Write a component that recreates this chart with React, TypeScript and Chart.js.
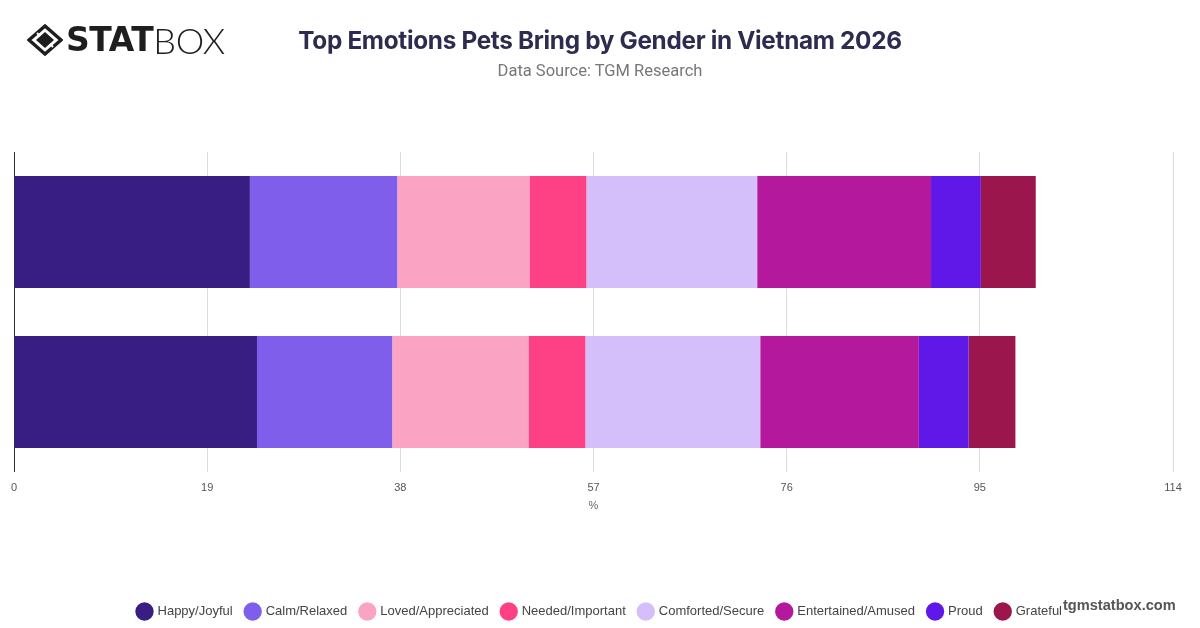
import React, { useEffect, useRef } from "react";
import { Chart, registerables } from "chart.js";

Chart.register(...registerables);

const categories = ["Male", "Female"];
const seriesNames = [
  "Happy/Joyful",
  "Calm/Relaxed",
  "Loved/Appreciated",
  "Needed/Important",
  "Comforted/Secure",
  "Entertained/Amused",
  "Proud",
  "Grateful",
];
const happy = [23.2, 23.9];
const calm = [14.5, 13.3];
const loved = [13.0, 13.4];
const needed = [5.6, 5.6];
const comforted = [16.8, 17.2];
const entertained = [17.1, 15.6];
const proud = [4.9, 4.9];
const grateful = [5.4, 4.6];
const seriesValues = [happy, calm, loved, needed, comforted, entertained, proud, grateful];
const colors = ["#381d82", "#7e5eeb", "#fba3c3", "#fe4085", "#d5bffa", "#b3189d", "#6018e9", "#9b164c"];
const xMin = 0;
const xMax = 114;
const xStep = 19;

function Logo() {
  return (
    <div style={{ position: "absolute", left: 27, top: 22, display: "flex", alignItems: "center", height: 36 }}>
      <svg width="36" height="32" viewBox="0 0 36 32" style={{ marginRight: 3 }}>
        <polygon points="18,2 34,16 18,30 2,16" fill="none" stroke="#1e1e1e" strokeWidth="3.4" strokeLinejoin="miter" />
        <polygon points="18,8 27,16 18,24 9,16" fill="#1e1e1e" />
        <line x1="10" y1="9" x2="13" y2="12" stroke="#fff" strokeWidth="2" />
        <line x1="26" y1="23" x2="23" y2="20" stroke="#fff" strokeWidth="2" />
      </svg>
      <span style={{ fontFamily: "'DejaVu Sans', sans-serif", fontWeight: 900, fontSize: 33, color: "#1e1e1e", letterSpacing: -0.5, lineHeight: "36px" }}>STAT</span>
      <span style={{ fontFamily: "'Lato', sans-serif", fontWeight: 300, fontSize: 36, color: "#1e1e1e", lineHeight: "36px", letterSpacing: -0.3 }}>BOX</span>
    </div>
  );
}

const legendShift = {
  id: "legendShift",
  afterLayout(chart: any) {
    if (chart.legend) {
      chart.legend.left += 6.5;
      chart.legend.right += 6.5;
    }
  },
};

export default function App() {
  const canvasRef = useRef<HTMLCanvasElement | null>(null);

  useEffect(() => {
    if (!canvasRef.current) return;
    const chart = new Chart(canvasRef.current, {
      type: "bar",
      data: {
        labels: categories,
        datasets: seriesNames.map((name, i) => ({
          label: name,
          data: seriesValues[i],
          backgroundColor: colors[i],
          borderWidth: 0,
          categoryPercentage: 1,
          barPercentage: 0.7,
        })),
      },
      options: {
        indexAxis: "y",
        animation: false,
        responsive: false,
        maintainAspectRatio: false,
        layout: { padding: { top: 152, left: 14, right: 27, bottom: 0 } },
        scales: {
          x: {
            stacked: true,
            min: xMin,
            max: xMax,
            afterFit: (axis: any) => {
              axis.paddingLeft = 0;
              axis.paddingRight = 0;
            },
            ticks: {
              stepSize: xStep,
              color: "#555",
              font: { family: "'Liberation Sans', sans-serif", size: 11 },
              padding: 9,
            },
            grid: {
              color: (ctx: any) => (ctx.index === 0 ? "#333" : "#dcdcdc"),
              lineWidth: 1,
              drawTicks: false,
            },
            border: { display: false },
            title: {
              display: true,
              text: "%",
              color: "#666",
              font: { family: "'Liberation Sans', sans-serif", size: 11 },
              padding: { top: -4, bottom: 79 },
            },
          },
          y: {
            stacked: true,
            display: false,
          },
        },
        plugins: {
          legend: {
            position: "bottom",
            labels: {
              usePointStyle: true,
              pointStyle: "circle",
              boxWidth: 13,
              boxHeight: 13,
              padding: 13.5,
              color: "#444",
              font: { family: "'Liberation Sans', sans-serif", size: 13 },
            },
          },
          tooltip: { enabled: false },
          title: { display: false },
        },
      },
      plugins: [legendShift],
    });
    return () => chart.destroy();
  }, []);

  return (
    <div style={{ position: "absolute", left: 0, top: 0, width: 1200, height: 628, background: "#fff", overflow: "hidden" }}>
      <canvas ref={canvasRef} width={1200} height={628} style={{ position: "absolute", left: 0, top: 0, width: 1200, height: 628 }} />
      <Logo />
      <div style={{ position: "absolute", left: 0, top: 25, width: 1200, textAlign: "center", fontFamily: "Inter, sans-serif", fontWeight: 700, fontSize: 24.3, color: "#2e2c4e", letterSpacing: -0.3 }}>
        Top Emotions Pets Bring by Gender in Vietnam 2026
      </div>
      <div style={{ position: "absolute", left: 0, top: 61, width: 1200, textAlign: "center", fontFamily: "Roboto, sans-serif", fontSize: 16.5, color: "#777" }}>
        Data Source: TGM Research
      </div>
      <div style={{ position: "absolute", left: 1063, top: 597, fontFamily: "'Liberation Sans', sans-serif", fontWeight: 700, fontSize: 14.6, color: "#555" }}>
        tgmstatbox.com
      </div>
    </div>
  );
}
